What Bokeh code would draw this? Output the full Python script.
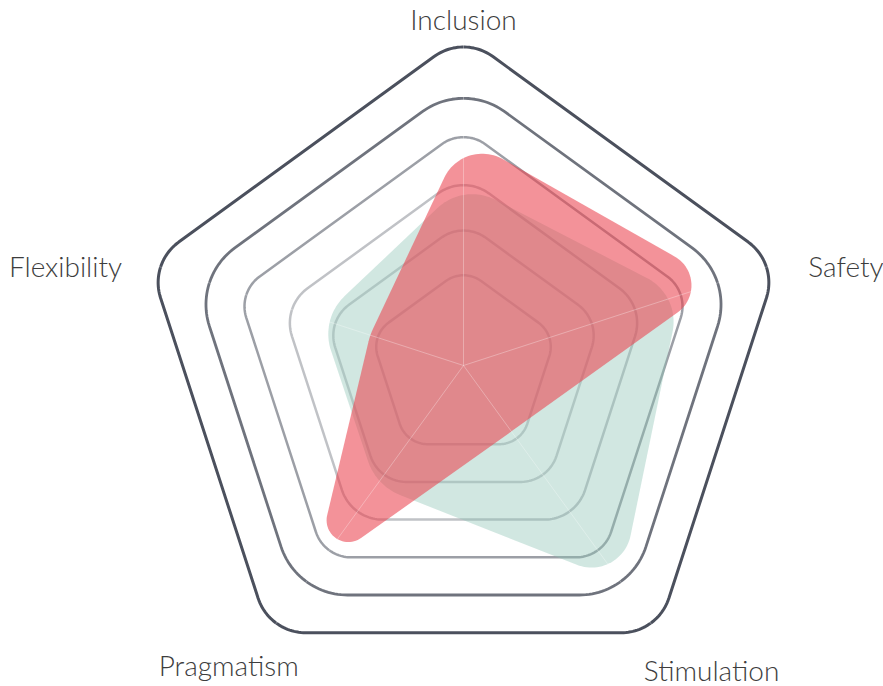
import numpy as np
from bokeh.plotting import figure
from bokeh.models import Range1d, Label
from bokeh.embed import file_html
from bokeh.resources import INLINE

# ---------------- data ----------------
categories = ["Inclusion", "Safety", "Stimulation", "Pragmatism", "Flexibility"]
teal_values = [2.82, 3.80, 4.66, 2.10, 2.14]
red_values = [3.82, 4.70, 0.66, 4.38, 1.02]
grid_levels = [1, 2, 3, 4, 5, 6]

# ---------------- styling / layout ----------------
W, H = 883, 686
CX, CY = 463, 365            # screen position of centre
R0, STEP = 50.7, 46.6        # radial scale: px at value 0, px per unit
RING_CORNER = [30, 38, 43, 37, 70, 50]
RING_ALPHA = [0.3, 0.3, 0.35, 0.55, 0.8, 1.0]
RING_WIDTH = [2.5, 2.5, 2.5, 2.5, 2.8, 3.0]
RING_COLOR = "#4b505d"
DATA_ROUND = 62              # distance from vertex to corner-arc centre
TEAL, TEAL_ALPHA = "#8cc2b5", 0.4
RED, RED_ALPHA = "#eb4450", 0.58
LABEL_SHIFT = -11
LABEL_OFF = [(0, -5.4, "center"), (30.6, 13.8, "left"), (-13.8, 47.8, "left"),
             (29.4, 42.8, "right"), (-27.2, 13.8, "right")]
FONT = "Lato Light"


def radius(v):
    return R0 + STEP * np.asarray(v, dtype=float)


angles = np.radians(90 - 72 * np.arange(len(categories)))


def polar(vals):
    r = radius(vals)
    return r * np.cos(angles), r * np.sin(angles)


def rounded(xs, ys, corner=None, centre_dist=None, n=28):
    pts = np.column_stack([xs, ys])
    m = len(pts)
    out = []
    for i in range(m):
        V, P, N = pts[i], pts[i - 1], pts[(i + 1) % m]
        u1 = P - V; l1 = np.hypot(*u1); u1 = u1 / l1
        u2 = N - V; l2 = np.hypot(*u2); u2 = u2 / l2
        ang = np.arccos(np.clip(np.dot(u1, u2), -1, 1))
        h = ang / 2
        if corner is not None:
            d = corner / np.tan(h)
        else:
            d = centre_dist * np.cos(h)
        d = min(d, 0.5 * l1, 0.5 * l2)
        A = V + u1 * d
        B = V + u2 * d
        s = u1 + u2
        ns = np.hypot(*s)
        if ns < 1e-6 or h > np.radians(89.7) or d < 0.5:
            out += [A, B]
            continue
        rc = d * np.tan(h)
        C = V + s / ns * (d / np.cos(h))
        a0 = np.arctan2(*(A - C)[::-1])
        a1 = np.arctan2(*(B - C)[::-1])
        da = (a1 - a0 + np.pi) % (2 * np.pi) - np.pi
        for tt in np.linspace(0, 1, n):
            a = a0 + da * tt
            out.append(C + rc * np.array([np.cos(a), np.sin(a)]))
    out = np.array(out)
    return out[:, 0], out[:, 1]


p = figure(width=W, height=H, output_backend="svg", toolbar_location=None,
           x_range=Range1d(-CX, W - CX), y_range=Range1d(CY - H, CY),
           min_border=0, background_fill_color="white", border_fill_color="white")
p.axis.visible = False
p.grid.visible = False
p.outline_line_color = None

# grid rings
for k, lev in enumerate(grid_levels):
    gx, gy = polar([lev] * len(categories))
    rx, ry = rounded(gx, gy, corner=RING_CORNER[k])
    p.line(np.append(rx, rx[0]), np.append(ry, ry[0]), line_color=RING_COLOR,
           line_alpha=RING_ALPHA[k], line_width=RING_WIDTH[k])

# series
for vals, col, al in [(teal_values, TEAL, TEAL_ALPHA), (red_values, RED, RED_ALPHA)]:
    sx, sy = polar(vals)
    rx, ry = rounded(sx, sy, centre_dist=DATA_ROUND)
    p.patch(rx, ry, fill_color=col, fill_alpha=al, line_color=None)

# spokes
ox, oy = polar([grid_levels[-1]] * len(categories))
p.segment(x0=[0] * len(categories), y0=[0] * len(categories), x1=ox, y1=oy,
          line_color="white", line_alpha=0.3, line_width=1)

# labels
for k, name in enumerate(categories):
    dx, dy, al = LABEL_OFF[k]
    p.add_layout(Label(x=ox[k] + dx, y=oy[k] - dy - LABEL_SHIFT, text=name, text_font=FONT,
                       text_font_size="28px", text_color="#3d3d3d", text_align=al,
                       text_baseline="alphabetic"))

open("out.html", "w").write(file_html(p, INLINE))
